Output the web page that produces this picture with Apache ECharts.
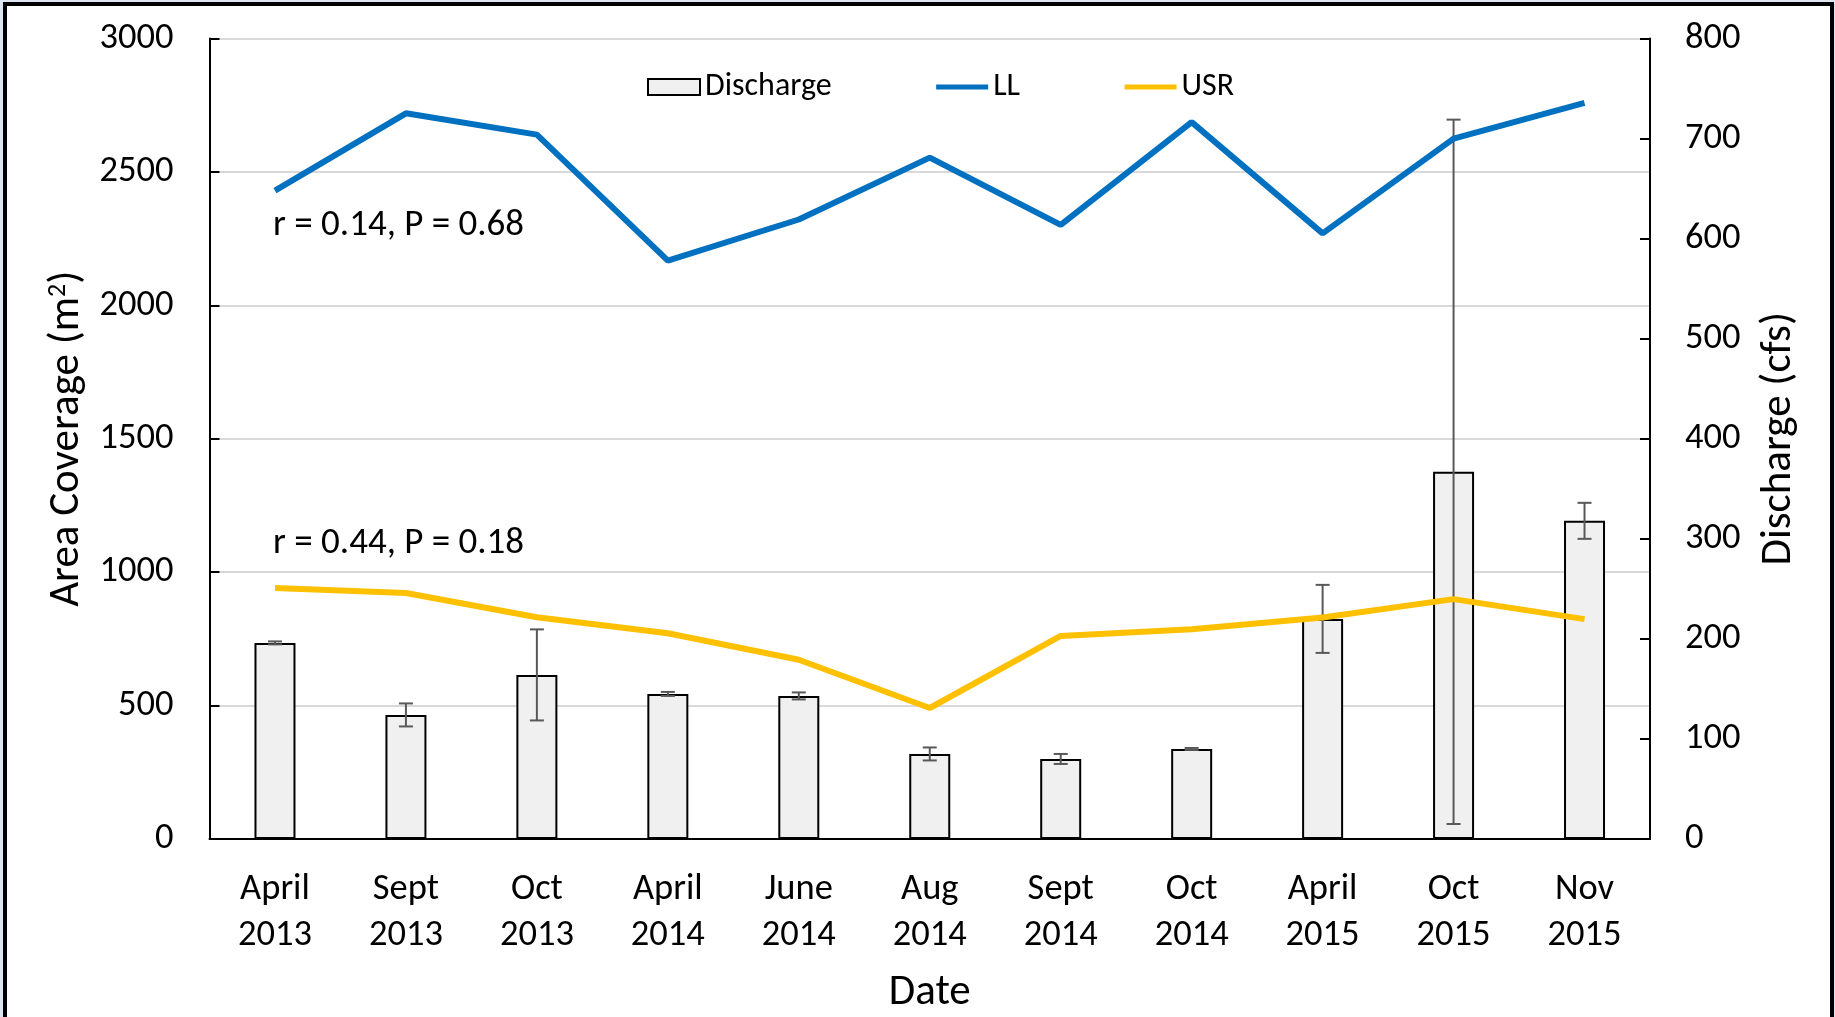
<!DOCTYPE html>
<html>
<head>
<meta charset="utf-8">
<title>Area coverage and discharge</title>
<script src="https://cdn.jsdelivr.net/npm/echarts@6/dist/echarts.min.js"></script>
<style>
	html, body { margin: 0; padding: 0; background: #dde6f1; }
	#chart { width: 1835px; height: 1017px; }
</style>
</head>
<body>
<div id="chart"></div>
<script>
	"use strict";

	// sampling dates
	var categories = ['April\n2013', 'Sept\n2013', 'Oct\n2013', 'April\n2014', 'June\n2014', 'Aug\n2014',
		'Sept\n2014', 'Oct\n2014', 'April\n2015', 'Oct\n2015', 'Nov\n2015'];

	// discharge (cfs) and its +/- error
	var discharge = [196, 124, 164, 145, 143, 85, 80, 90, 220, 367, 318];
	var dischargeErr = [1.5, 11.5, 45.5, 2, 3.5, 6.5, 5, 1, 34, 352, 18];

	// area coverage (m2)
	var ll = [2430, 2720, 2640, 2168, 2322, 2554, 2302, 2687, 2270, 2625, 2759];
	var usr = [941, 922, 831, 771, 672, 491, 761, 786, 830, 899, 824];

	var leftTicks = { min: 0, max: 3000, step: 500 };
	var rightTicks = { min: 0, max: 800, step: 100 };

	var FONT = "Carlito, 'Liberation Sans', sans-serif";

	var errData = discharge.map(function (v, i) {
		return [i, v - dischargeErr[i], v + dischargeErr[i]];
	});

	function plain(v) { return String(v); }

	var chart = echarts.init(document.getElementById('chart'));

	var option = {
		backgroundColor: '#dde6f1',
		animation: false,
		textStyle: { fontFamily: FONT, color: '#000' },
		graphic: [
			{
				type: 'rect',
				z: -10,
				shape: { x: 5, y: 4, width: 1827, height: 1030 },
				style: { fill: '#fff', stroke: '#000', lineWidth: 4 }
			},
			{
				type: 'text',
				left: 273, top: 207,
				style: { text: 'r = 0.14, P = 0.68', font: '37px ' + FONT, fill: '#000' }
			},
			{
				type: 'text',
				left: 273, top: 525,
				style: { text: 'r = 0.44, P = 0.18', font: '37px ' + FONT, fill: '#000' }
			}
		],
		grid: {
			left: 209.5,
			right: 185,
			top: 38.6,
			bottom: 178,
			containLabel: false,
			outerBoundsMode: 'none'
		},
		legend: {
			left: 642,
			top: 66,
			itemGap: 102,
			itemWidth: 52,
			itemHeight: 16,
			textStyle: { fontSize: 32, fontFamily: FONT, color: '#000' },
			data: [
				{ name: 'Discharge', icon: 'rect' },
				{ name: 'LL', itemStyle: { opacity: 0 }, lineStyle: { width: 5, color: '#0070c0' } },
				{ name: 'USR', itemStyle: { opacity: 0 }, lineStyle: { width: 5, color: '#ffc000' } }
			]
		},
		xAxis: {
			type: 'category',
			data: categories,
			name: 'Date',
			nameLocation: 'middle',
			nameGap: 133,
			nameTextStyle: { fontSize: 43, color: '#000' },
			axisLine: { lineStyle: { color: '#000', width: 2 } },
			axisTick: { show: false },
			axisLabel: { fontSize: 36.5, color: '#000', lineHeight: 46, margin: 28 }
		},
		yAxis: [
			{
				type: 'value',
				min: leftTicks.min,
				max: leftTicks.max,
				interval: leftTicks.step,
				name: 'Area Coverage (m{sup|2})',
				nameLocation: 'middle',
				nameGap: 120,
				nameRotate: 90,
				nameTextStyle: {
					fontSize: 43, color: '#000',
					rich: { sup: { fontSize: 26, verticalAlign: 'top', padding: [0, 0, 16, 0] } }
				},
				axisLine: { show: true, lineStyle: { color: '#000', width: 2 } },
				axisTick: { show: true, inside: true, length: 10, lineStyle: { color: '#000', width: 2 } },
				axisLabel: { fontSize: 36.5, color: '#000', margin: 36, padding: [5, 0, 0, 0], formatter: plain },
				splitLine: { lineStyle: { color: '#d9d9d9', width: 2 } }
			},
			{
				type: 'value',
				position: 'right',
				min: rightTicks.min,
				max: rightTicks.max,
				interval: rightTicks.step,
				name: 'Discharge (cfs)',
				nameLocation: 'middle',
				nameGap: 108,
				nameRotate: 90,
				nameTextStyle: { fontSize: 43, color: '#000' },
				axisLine: { show: true, lineStyle: { color: '#000', width: 2 } },
				axisTick: { show: true, inside: true, length: 10, lineStyle: { color: '#000', width: 2 } },
				axisLabel: { fontSize: 36.5, color: '#000', margin: 35, padding: [5, 0, 0, 0], formatter: plain },
				splitLine: { show: false }
			}
		],
		series: [
			{
				name: 'Discharge',
				type: 'bar',
				yAxisIndex: 1,
				barWidth: 41,
				data: discharge,
				itemStyle: { color: '#f0f0f0', borderColor: '#000', borderWidth: 2 },
				z: 2
			},
			{
				name: 'DischargeErr',
				type: 'custom',
				yAxisIndex: 1,
				data: errData,
				z: 3,
				renderItem: function (params, api) {
					var x = api.value(0);
					var lo = api.coord([x, api.value(1)]);
					var hi = api.coord([x, api.value(2)]);
					var cap = 7;
					var st = { stroke: '#595959', lineWidth: 2 };
					return {
						type: 'group',
						children: [
							{ type: 'line', shape: { x1: lo[0], y1: lo[1], x2: hi[0], y2: hi[1] }, style: st },
							{ type: 'line', shape: { x1: hi[0] - cap, y1: hi[1], x2: hi[0] + cap, y2: hi[1] }, style: st },
							{ type: 'line', shape: { x1: lo[0] - cap, y1: lo[1], x2: lo[0] + cap, y2: lo[1] }, style: st }
						]
					};
				}
			},
			{
				name: 'LL',
				type: 'line',
				yAxisIndex: 0,
				data: ll,
				symbol: 'none',
				lineStyle: { color: '#0070c0', width: 6 },
				itemStyle: { color: '#0070c0' },
				z: 4
			},
			{
				name: 'USR',
				type: 'line',
				yAxisIndex: 0,
				data: usr,
				symbol: 'none',
				lineStyle: { color: '#ffc000', width: 6 },
				itemStyle: { color: '#ffc000' },
				z: 4
			}
		]
	};

	chart.setOption(option);
</script>
</body>
</html>
